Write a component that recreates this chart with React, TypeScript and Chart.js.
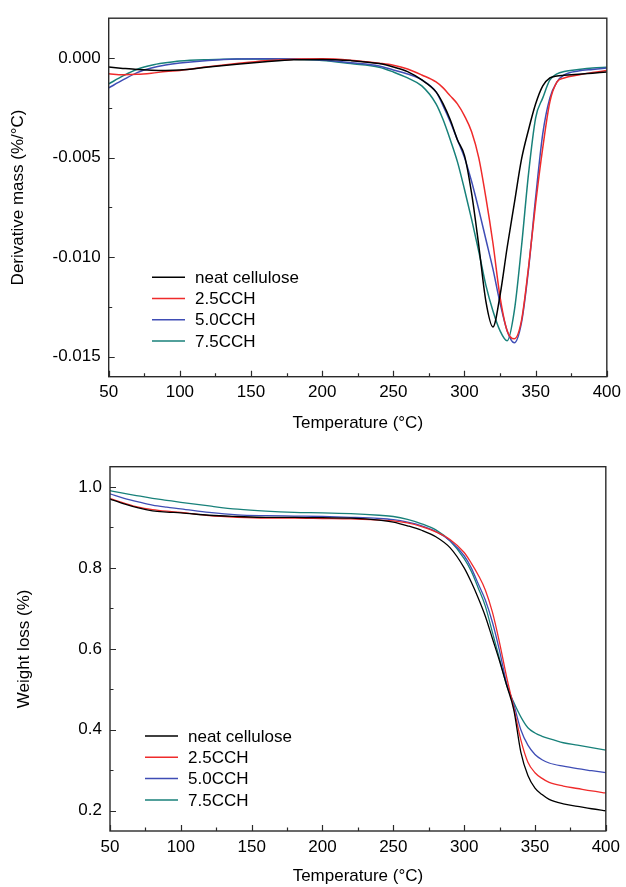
import React, { useEffect, useRef } from 'react';
import { Chart, registerables } from 'chart.js';

Chart.register(...registerables);

// ---------- DATA ----------
const seriesLabels = ['neat cellulose', '2.5CCH', '5.0CCH', '7.5CCH'];
const seriesColors = ['#000000', '#ef2b2b', '#3f4db5', '#18817a'];

// Top chart: derivative mass (%/°C)
const dtgTemperature = [50, 60, 70, 80, 90, 100, 120, 140, 160, 180, 200, 220, 240, 250, 260, 270, 280, 285, 290, 295, 300, 305, 310, 315, 320, 325, 330, 335, 340, 345, 350, 355, 360, 365, 370, 380, 390, 400];
const dtgNeat = [-0.00045, -0.00052, -0.00058, -0.00061, -0.00062, -0.0006, -0.00045, -0.00031, -0.00019, -0.00009, -0.00007, -0.00013, -0.00028, -0.00045, -0.00068, -0.0011, -0.0017, -0.0023, -0.0031, -0.0041, -0.0049, -0.0068, -0.0094, -0.0122, -0.0135, -0.0119, -0.0095, -0.0073, -0.0051, -0.0036, -0.0023, -0.0014, -0.001, -0.0009, -0.00087, -0.00082, -0.00076, -0.0007];
const dtg25 = [-0.00079, -0.00084, -0.00082, -0.00076, -0.00068, -0.00062, -0.00044, -0.00028, -0.00014, -0.00006, -0.00004, -0.00011, -0.00026, -0.00036, -0.00055, -0.00085, -0.0012, -0.0015, -0.0019, -0.0023, -0.0029, -0.0037, -0.005, -0.007, -0.0093, -0.012, -0.0137, -0.0141, -0.0132, -0.0105, -0.0073, -0.0045, -0.0022, -0.0012, -0.001, -0.00085, -0.00072, -0.00063];
const dtg50 = [-0.0015, -0.0011, -0.00073, -0.0005, -0.00035, -0.00025, -0.00012, -0.00005, -0.00004, -0.00005, -0.0001, -0.00024, -0.0004, -0.0006, -0.0008, -0.0011, -0.0017, -0.0024, -0.0032, -0.0041, -0.005, -0.0062, -0.0076, -0.0091, -0.0106, -0.0123, -0.0137, -0.0143, -0.0133, -0.0106, -0.007, -0.0038, -0.002, -0.0012, -0.00085, -0.00065, -0.00057, -0.0005];
const dtg75 = [-0.0013, -0.0009, -0.00056, -0.00036, -0.00024, -0.00015, -0.00008, -0.00005, -0.00005, -0.00006, -0.00012, -0.00028, -0.00046, -0.0007, -0.001, -0.0014, -0.0023, -0.0031, -0.0041, -0.0052, -0.0066, -0.0081, -0.0097, -0.0114, -0.0127, -0.0137, -0.0142, -0.0127, -0.0095, -0.0058, -0.003, -0.002, -0.0011, -0.0008, -0.00068, -0.00058, -0.0005, -0.00046];

// Bottom chart: weight loss (%)
const tgaTemperature = [50, 60, 70, 80, 90, 100, 120, 140, 160, 180, 200, 220, 240, 250, 260, 270, 280, 290, 300, 305, 310, 315, 320, 325, 330, 335, 340, 345, 350, 355, 360, 370, 380, 390, 400];
const tgaNeat = [0.97, 0.958, 0.948, 0.941, 0.938, 0.936, 0.93, 0.927, 0.925, 0.925, 0.924, 0.923, 0.918, 0.913, 0.904, 0.893, 0.877, 0.85, 0.8, 0.765, 0.725, 0.68, 0.625, 0.57, 0.51, 0.45, 0.345, 0.287, 0.256, 0.24, 0.228, 0.217, 0.211, 0.205, 0.2];
const tga25 = [0.971, 0.96, 0.95, 0.944, 0.94, 0.937, 0.929, 0.925, 0.923, 0.923, 0.922, 0.921, 0.918, 0.916, 0.911, 0.902, 0.889, 0.87, 0.838, 0.812, 0.782, 0.745, 0.69, 0.615, 0.53, 0.455, 0.375, 0.32, 0.294, 0.28, 0.27, 0.261, 0.255, 0.249, 0.244];
const tga50 = [0.983, 0.972, 0.963, 0.955, 0.95, 0.946, 0.937, 0.931, 0.929, 0.928, 0.927, 0.925, 0.922, 0.919, 0.913, 0.904, 0.89, 0.867, 0.83, 0.8, 0.76, 0.72, 0.665, 0.595, 0.515, 0.463, 0.4, 0.362, 0.339, 0.326, 0.318, 0.31, 0.304, 0.299, 0.294];
const tga75 = [0.991, 0.984, 0.978, 0.972, 0.967, 0.962, 0.953, 0.945, 0.94, 0.937, 0.936, 0.934, 0.93, 0.927, 0.92, 0.909, 0.894, 0.867, 0.823, 0.792, 0.75, 0.705, 0.64, 0.575, 0.51, 0.468, 0.432, 0.405, 0.392, 0.384, 0.378, 0.368, 0.362, 0.356, 0.35];

// Ticks
const xMajorTicks = [50, 100, 150, 200, 250, 300, 350, 400];
const xMinorTicks = [75, 125, 175, 225, 275, 325, 375];
const dtgMajorTicks = [0, -0.005, -0.01, -0.015];
const dtgMinorTicks = [-0.0025, -0.0075, -0.0125];
const tgaMajorTicks = [0.2, 0.4, 0.6, 0.8, 1.0];
const tgaMinorTicks = [0.3, 0.5, 0.7, 0.9];

// ---------- STYLE ----------
const FONT_FAMILY = "'Liberation Sans', Arial, Helvetica, sans-serif";
const FONT = { family: FONT_FAMILY, size: 17 };
const AXIS_COLOR = '#2a2a2a';

type Spec = {
  height: number;
  xData: number[];
  series: number[][];
  yMin: number;
  yMax: number;
  yMajor: number[];
  yMinor: number[];
  yDecimals: number;
  yTitle: string;
  pad: { top: number; right: number };
  yWidth: number;
  xHeight: number;
  xTickPad: number;
  xTitlePadBottom: number;
  yTitlePadTop: number;
  legend: { left: number; top: number; gap: number };
  lineWidth: number;
};

const framePlugin = {
  id: 'frameTicks',
  afterDraw(chart: any, _args: any, opts: any) {
    const { ctx, chartArea: a, scales } = chart;
    const xs = scales.x;
    const ys = scales.y;
    ctx.save();
    ctx.strokeStyle = AXIS_COLOR;
    ctx.lineWidth = 1.4;
    ctx.strokeRect(a.left, a.top, a.right - a.left, a.bottom - a.top);
    ctx.lineWidth = 1.2;
    ctx.beginPath();
    for (const v of xMajorTicks) {
      const px = Math.round(xs.getPixelForValue(v)) + 0.5;
      ctx.moveTo(px, a.bottom);
      ctx.lineTo(px, a.bottom - 6);
    }
    for (const v of xMinorTicks) {
      const px = Math.round(xs.getPixelForValue(v)) + 0.5;
      ctx.moveTo(px, a.bottom);
      ctx.lineTo(px, a.bottom - 3.5);
    }
    for (const v of opts.yMajor) {
      const py = Math.round(ys.getPixelForValue(v)) + 0.5;
      ctx.moveTo(a.left, py);
      ctx.lineTo(a.left + 6, py);
    }
    for (const v of opts.yMinor) {
      const py = Math.round(ys.getPixelForValue(v)) + 0.5;
      ctx.moveTo(a.left, py);
      ctx.lineTo(a.left + 3.5, py);
    }
    ctx.stroke();
    ctx.restore();
  },
};

const legendPlugin = {
  id: 'innerLegend',
  afterDraw(chart: any, _args: any, opts: any) {
    const { ctx, chartArea: a } = chart;
    ctx.save();
    ctx.font = `${FONT.size}px ${FONT_FAMILY}`;
    ctx.textBaseline = 'middle';
    ctx.textAlign = 'left';
    chart.data.datasets.forEach((ds: any, i: number) => {
      const y = a.top + opts.top + i * opts.gap;
      const x0 = a.left + opts.left;
      ctx.strokeStyle = ds.borderColor;
      ctx.lineWidth = 1.5;
      ctx.beginPath();
      ctx.moveTo(x0, y);
      ctx.lineTo(x0 + 33, y);
      ctx.stroke();
      ctx.fillStyle = '#000';
      ctx.fillText(ds.label, x0 + 43, y + 1);
    });
    ctx.restore();
  },
};

function makeConfig(spec: Spec): any {
  return {
    type: 'line',
    data: {
      datasets: spec.series.map((vals, i) => ({
        label: seriesLabels[i],
        data: spec.xData.map((t, j) => ({ x: t, y: vals[j] })),
        borderColor: seriesColors[i],
        backgroundColor: seriesColors[i],
        borderWidth: spec.lineWidth,
        pointRadius: 0,
        fill: false,
        cubicInterpolationMode: 'monotone',
      })),
    },
    options: {
      animation: false,
      responsive: false,
      devicePixelRatio: 1,
      layout: { padding: { top: spec.pad.top, right: spec.pad.right, left: 0, bottom: 0 } },
      plugins: {
        legend: { display: false },
        tooltip: { enabled: false },
        frameTicks: { yMajor: spec.yMajor, yMinor: spec.yMinor },
        innerLegend: spec.legend,
      },
      scales: {
        x: {
          type: 'linear',
          min: 50,
          max: 400,
          grid: { display: false, drawTicks: false },
          border: { display: false },
          afterBuildTicks: (s: any) => {
            s.ticks = xMajorTicks.map((v) => ({ value: v }));
          },
          afterFit: (s: any) => {
            s.height = spec.xHeight;
          },
          ticks: {
            padding: spec.xTickPad,
            font: FONT,
            color: '#000',
            maxRotation: 0,
            autoSkip: false,
            callback: (v: any) => String(v),
          },
          title: {
            display: true,
            text: 'Temperature (°C)',
            font: FONT,
            color: '#000',
            padding: { top: 0, bottom: spec.xTitlePadBottom },
          },
        },
        y: {
          type: 'linear',
          min: spec.yMin,
          max: spec.yMax,
          grid: { display: false, drawTicks: false },
          border: { display: false },
          afterBuildTicks: (s: any) => {
            s.ticks = spec.yMajor.map((v) => ({ value: v }));
          },
          afterFit: (s: any) => {
            s.width = spec.yWidth;
          },
          ticks: {
            padding: 8,
            font: FONT,
            color: '#000',
            autoSkip: false,
            callback: (v: any) => Number(v).toFixed(spec.yDecimals),
          },
          title: {
            display: true,
            text: spec.yTitle,
            font: FONT,
            color: '#000',
            padding: { top: spec.yTitlePadTop, bottom: 0 },
          },
        },
      },
    },
    plugins: [framePlugin, legendPlugin],
  };
}

const topSpec: Spec = {
  height: 440,
  xData: dtgTemperature,
  series: [dtgNeat, dtg25, dtg50, dtg75],
  yMin: -0.016,
  yMax: 0.002,
  yMajor: dtgMajorTicks,
  yMinor: dtgMinorTicks,
  yDecimals: 3,
  yTitle: 'Derivative mass (%/°C)',
  pad: { top: 13, right: 16.5 },
  yWidth: 108.7,
  xHeight: 63.3,
  xTickPad: 5,
  xTitlePadBottom: 6.8,
  yTitlePadTop: 8.3,
  legend: { left: 43.3, top: 259, gap: 21.3 },
  lineWidth: 1.5,
};

const bottomSpec: Spec = {
  height: 447,
  xData: tgaTemperature,
  series: [tgaNeat, tga25, tga50, tga75],
  yMin: 0.15,
  yMax: 1.05,
  yMajor: tgaMajorTicks,
  yMinor: tgaMinorTicks,
  yDecimals: 1,
  yTitle: 'Weight loss (%)',
  pad: { top: 26.7, right: 15.3 },
  yWidth: 110,
  xHeight: 56,
  xTickPad: 6,
  xTitlePadBottom: 0,
  yTitlePadTop: 14,
  legend: { left: 35, top: 269.3, gap: 21.3 },
  lineWidth: 1.3,
};

function ChartCanvas({ spec }: { spec: Spec }) {
  const ref = useRef<HTMLCanvasElement | null>(null);
  useEffect(() => {
    if (!ref.current) return;
    const chart = new Chart(ref.current, makeConfig(spec));
    return () => chart.destroy();
  }, [spec]);
  return (
    <canvas
      ref={ref}
      width={626}
      height={spec.height}
      style={{ display: 'block', width: 626, height: spec.height }}
    />
  );
}

export default function App() {
  return (
    <div
      style={{
        position: 'absolute',
        left: 0,
        top: 0,
        width: 626,
        height: 887,
        background: '#fff',
      }}
    >
      <ChartCanvas spec={topSpec} />
      <ChartCanvas spec={bottomSpec} />
    </div>
  );
}
